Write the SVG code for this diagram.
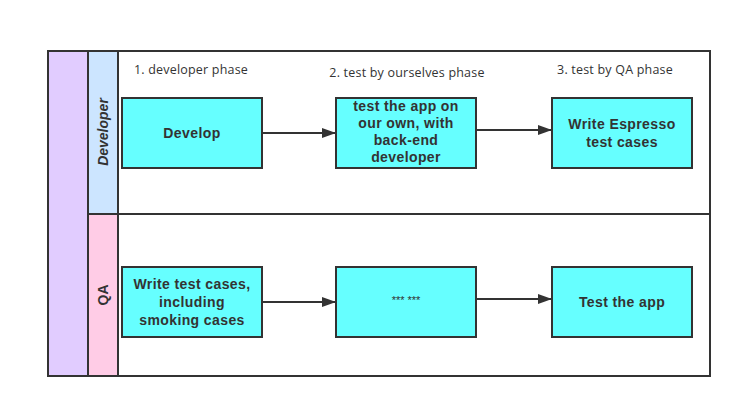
<svg xmlns="http://www.w3.org/2000/svg" width="742" height="408" viewBox="0 0 742 408">
<style>
.lane{stroke:#333;stroke-width:2}
.box{fill:#66ffff;stroke:#333;stroke-width:2}
.bt{font-family:"Liberation Sans",Arial,sans-serif;font-weight:bold;font-size:14px;fill:#333;text-anchor:middle;letter-spacing:0.4px}
.ph{font-family:"Open Sans","Liberation Sans",sans-serif;font-size:12.5px;fill:#333;text-anchor:middle;letter-spacing:0.2px}
.ln{font-family:"Liberation Sans",Arial,sans-serif;font-size:14px;fill:#333;text-anchor:middle}
.conn{stroke:#333;stroke-width:2;fill:none}
</style>
<defs>
<marker id="ah" markerWidth="14" markerHeight="10" refX="13" refY="5" orient="auto" markerUnits="userSpaceOnUse">
<path d="M0,0 L14,5 L0,10 Z" fill="#333"/>
</marker>
</defs>
<rect width="742" height="408" fill="#fff"/>
<g id="pool">
<rect x="48" y="51" width="662" height="325" fill="#fff" class="lane"/>
<rect x="48" y="51" width="40" height="325" fill="#e1ccff" class="lane"/>
</g>
<g id="lane-developer">
<rect x="88" y="51" width="30" height="163" fill="#cce5ff" class="lane"/>
<line x1="118" y1="214" x2="710" y2="214" class="lane"/>
<text class="ln" transform="translate(108,132) rotate(-90)" font-weight="bold" font-style="italic">Developer</text>
</g>
<g id="lane-qa">
<rect x="88" y="214" width="30" height="162" fill="#ffcce6" class="lane"/>
<text class="ln" transform="translate(108,295) rotate(-90)" font-weight="bold">QA</text>
</g>
<g id="phases">
<text class="ph" x="191" y="74">1. developer phase</text>
<text class="ph" x="407" y="77">2. test by ourselves phase</text>
<text class="ph" x="615" y="74">3. test by QA phase</text>
</g>
<g id="connectors">
<line class="conn" x1="262" y1="133" x2="335" y2="133" marker-end="url(#ah)"/>
<line class="conn" x1="476" y1="130" x2="551" y2="130" marker-end="url(#ah)"/>
<line class="conn" x1="262" y1="302" x2="335" y2="302" marker-end="url(#ah)"/>
<line class="conn" x1="476" y1="299" x2="551" y2="299" marker-end="url(#ah)"/>
</g>
<g id="develop">
<rect x="122" y="98" width="140" height="70" class="box"/>
<text class="bt" x="192" y="138">Develop</text>
</g>
<g id="test-own">
<rect x="336" y="98" width="140" height="70" class="box"/>
<text class="bt" x="406" y="111">test the app on</text>
<text class="bt" x="406" y="128">our own, with</text>
<text class="bt" x="406" y="145">back-end</text>
<text class="bt" x="406" y="162">developer</text>
</g>
<g id="espresso">
<rect x="552" y="98" width="140" height="70" class="box"/>
<text class="bt" x="622" y="129">Write Espresso</text>
<text class="bt" x="622" y="147">test cases</text>
</g>
<g id="write-tests">
<rect x="122" y="267" width="140" height="70" class="box"/>
<text class="bt" x="192" y="289">Write test cases,</text>
<text class="bt" x="192" y="307">including</text>
<text class="bt" x="192" y="325">smoking cases</text>
</g>
<g id="stars">
<rect x="336" y="267" width="140" height="70" class="box"/>
<text x="406" y="304" font-family="Liberation Sans,Arial,sans-serif" font-size="11" fill="#333" text-anchor="middle">*** ***</text>
</g>
<g id="test-app">
<rect x="552" y="267" width="140" height="70" class="box"/>
<text class="bt" x="622" y="307">Test the app</text>
</g>
</svg>
